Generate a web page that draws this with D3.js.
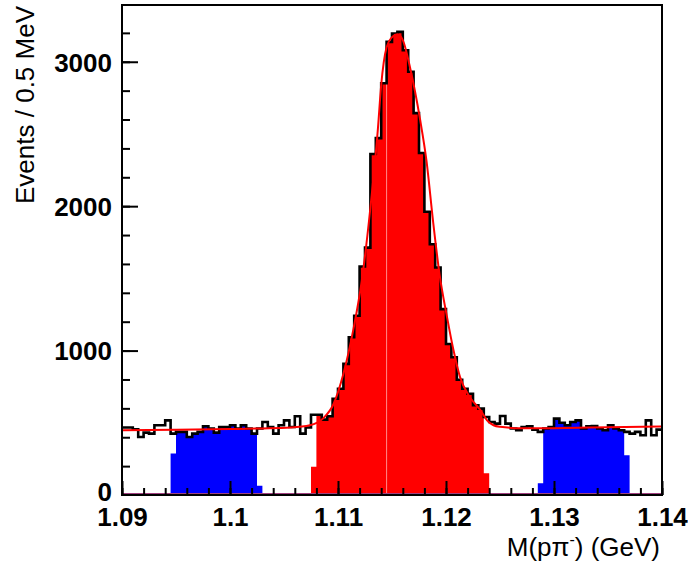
<!DOCTYPE html>
<html><head><meta charset="utf-8">
<script src="https://cdn.jsdelivr.net/npm/d3@7"></script>
<style>body{margin:0;background:#fff}</style>
</head><body>
<svg id="c" width="688" height="565"></svg>
<script>
// ---- data ----
const xMin = 1.09, xMax = 1.14, binWidth = 0.0005;
const counts = [
  467, 467, 455, 402, 432, 425, 483, 483, 517, 425,
  437, 437, 402, 425, 437, 476, 460, 432, 471, 471,
  483, 460, 483, 460, 425, 460, 506, 471, 425, 483,
  517, 471, 545, 425, 467, 556, 556, 522, 545, 667,
  736, 908, 1092, 1241, 1582, 1713, 2361, 2471, 2851, 3138,
  3195, 3207, 3080, 2931, 2644, 2368, 1961, 1736, 1575, 1287,
  1046, 954, 798, 736, 701, 621, 598, 540, 506, 494,
  547, 494, 460, 448, 471, 475, 453, 437, 460, 471,
  529, 500, 483, 506, 517, 460, 475, 478, 460, 448,
  483, 460, 448, 437, 425, 437, 414, 517, 414, 453
];
const signalBins = [36, 66];            // fully filled signal bins
const signalEdgeCounts = [195, 150];    // partial bins just outside
const sidebandBins = [[10, 24], [78, 92]];
const sidebandEdgeCounts = [[287, 64], [81, 276]];
const splitEdge = 1.1145;

const fitX = [1.090, 1.095, 1.100, 1.103, 1.1056, 1.1074, 1.1086, 1.1096, 1.1105, 1.1114,
              1.1122, 1.1130, 1.1137, 1.1140, 1.1145, 1.1150, 1.1155, 1.1160, 1.1167, 1.1176,
              1.1182, 1.1188, 1.1194, 1.1201, 1.1207, 1.1213, 1.1222, 1.1232, 1.1238, 1.1244,
              1.1250, 1.1270, 1.1300, 1.1350, 1.1400];
const fitY = [448, 452, 457, 461, 467, 483, 529, 632, 839, 1138,
              1483, 1989, 2540, 2839, 3100, 3170, 3190, 3150, 2950, 2600,
              2310, 1897, 1529, 1230, 1000, 816, 678, 586, 517, 483,
              472, 462, 463, 469, 475];

const xMajorTicks = [1.09, 1.10, 1.11, 1.12, 1.13, 1.14];
const xTickLabels = ["1.09", "1.1", "1.11", "1.12", "1.13", "1.14"];
const yMajorTicks = [0, 1000, 2000, 3000];
const yTickLabels = ["0", "1000", "2000", "3000"];
const yMax = 3393;
const xTitle = ["M(p\u03C0", "-", ") (GeV)"];
const yTitle = "Events / 0.5 MeV";

// ---- layout ----
const L = 122, R = 662, T = 5, B = 495;
const svg = d3.select("#c");
const x = d3.scaleLinear().domain([xMin, xMax]).range([L, R]);
const y = d3.scaleLinear().domain([0, yMax]).range([B, T]);
const font = "'Liberation Sans', Arial, Helvetica, sans-serif";

const nBins = counts.length;
const edges = d3.range(nBins).map(i => xMin + i * binWidth);

function fillValues(ranges, edgeCounts) {
  const v = new Array(nBins).fill(0);
  ranges.forEach((r, k) => {
    for (let i = r[0]; i <= r[1]; i++) v[i] = counts[i];
    v[r[0] - 1] = edgeCounts[k][0];
    v[r[1] + 1] = edgeCounts[k][1];
  });
  return v;
}
const redVals = fillValues([signalBins], [signalEdgeCounts]);
const blueVals = fillValues(sidebandBins, sidebandEdgeCounts);

function stepPts(vals) {
  const pts = vals.map((v, i) => [edges[i], v]);
  pts.push([xMax, vals[nBins - 1]]);
  return pts;
}
const area = d3.area().curve(d3.curveStepAfter)
  .x(d => x(d[0])).y0(y(0)).y1(d => y(d[1]));

svg.append("path").attr("d", area(stepPts(blueVals))).attr("fill", "#0000ff");
svg.append("path").attr("d", area(stepPts(redVals))).attr("fill", "#ff0000");

// faint seam line inside the signal fill
const si = Math.round((splitEdge - xMin) / binWidth);
svg.append("line")
  .attr("x1", x(splitEdge)).attr("x2", x(splitEdge))
  .attr("y1", y(0)).attr("y2", y(Math.min(counts[si - 1], counts[si])))
  .attr("stroke", "#ff8a8a").attr("stroke-width", 1);

// data histogram outline
const line = d3.line().curve(d3.curveStepAfter).x(d => x(d[0])).y(d => y(d[1]));
svg.append("path").attr("d", line(stepPts(counts)))
  .attr("fill", "none").attr("stroke", "#000").attr("stroke-width", 2.6);

// fit curve
const fitPts = fitX.map((v, i) => [v, fitY[i]]);
svg.append("path")
  .attr("d", d3.line().curve(d3.curveMonotoneX).x(d => x(d[0])).y(d => y(d[1]))(fitPts))
  .attr("fill", "none").attr("stroke", "#ff0000").attr("stroke-width", 2);

// frame
svg.append("rect").attr("x", L).attr("y", T).attr("width", R - L).attr("height", B - T)
  .attr("fill", "none").attr("stroke", "#000").attr("stroke-width", 2);

// baseline line (purple, just above the axis)
svg.append("line").attr("x1", x(xMin) + 1).attr("x2", x(xMax) - 1)
  .attr("y1", B - 1.5).attr("y2", B - 1.5).attr("stroke", "#a04080").attr("stroke-width", 1);

// x axis ticks
const xMinor = d3.range(0, 26).map(i => +(xMin + i * 0.002).toFixed(4));
const gx = svg.append("g").attr("transform", `translate(0,${B})`);
gx.call(d3.axisBottom(x).tickValues(xMinor).tickSize(-7).tickFormat(""));
const gx2 = svg.append("g").attr("transform", `translate(0,${B})`);
gx2.call(d3.axisBottom(x).tickValues(xMajorTicks).tickSize(-14)
  .tickFormat((d, i) => xTickLabels[i]));
[gx, gx2].forEach(g => {
  g.select(".domain").remove();
  g.selectAll(".tick line").attr("stroke", "#000").attr("stroke-width", 2);
});
gx2.selectAll(".tick text").attr("y", 31).attr("dy", null)
  .attr("font-family", font).attr("font-weight", "bold").attr("font-size", 26).attr("fill", "#000");

// y axis ticks (the 0 tick lies on the frame, so only its label is drawn)
const yMinor = d3.range(1, 17).map(i => i * 200);
const gy = svg.append("g").attr("transform", `translate(${L},0)`);
gy.call(d3.axisLeft(y).tickValues(yMinor).tickSize(-8).tickFormat(""));
const gy2 = svg.append("g").attr("transform", `translate(${L},0)`);
gy2.call(d3.axisLeft(y).tickValues(yMajorTicks).tickSize(-16)
  .tickFormat((d, i) => yTickLabels[i]));
[gy, gy2].forEach(g => {
  g.select(".domain").remove();
  g.selectAll(".tick line").attr("stroke", "#000").attr("stroke-width", 2);
});
gy2.selectAll(".tick").filter(d => d === 0).select("line").remove();
gy2.selectAll(".tick text").attr("x", -10).attr("dy", "0.36em")
  .attr("font-family", font).attr("font-weight", "bold").attr("font-size", 26).attr("fill", "#000");
gy2.selectAll(".tick").filter(d => d === 0).select("text").attr("dy", "0.2em");

// titles
const xt = svg.append("text").attr("x", 660).attr("y", 556).attr("text-anchor", "end")
  .attr("font-family", font).attr("font-size", 26).attr("fill", "#000");
xt.append("tspan").text(xTitle[0]);
xt.append("tspan").attr("dy", -11).attr("font-size", 16).text(xTitle[1]);
xt.append("tspan").attr("dy", 11).text(xTitle[2]);

svg.append("text").attr("transform", "translate(34,6) rotate(-90)")
  .attr("text-anchor", "end").attr("font-family", font).attr("font-size", 26)
  .attr("fill", "#000").text(yTitle);
</script>
</body></html>
